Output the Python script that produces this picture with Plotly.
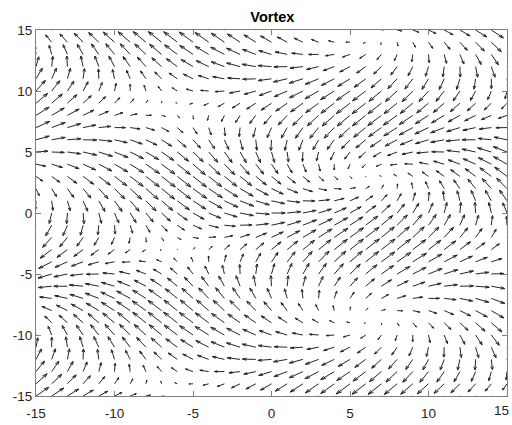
import numpy as np
import plotly.graph_objects as go

# Sampling grid (same vector for x and y)
grid_x = np.arange(-15, 16, 1.0)
grid_y = np.arange(-15, 16, 1.0)

# Field parameters: wavenumbers along x and y
kx = 0.125
ky = 0.27

# Tick positions and their labels (hyphen-minus, as printed)
tick_vals = [-15, -10, -5, 0, 5, 10, 15]
tick_text = ["-15", "-10", "-5", "0", "5", "10", "15"]

X, Y = np.meshgrid(grid_x, grid_y)
U = np.cos(kx * X + ky * Y)
V = np.sin(kx * X - ky * Y)

# quiver-style autoscaling: longest arrow = 0.9 of the mean grid diagonal
n = m = np.sqrt(X.size)
delx = (X.max() - X.min()) / n
dely = (Y.max() - Y.min()) / m
dl = delx ** 2 + dely ** 2
maxlen = np.sqrt((U ** 2 + V ** 2) / dl).max()
s = 0.9 / maxlen
u = (U * s).ravel()
v = (V * s).ravel()
x = X.ravel()
y = Y.ravel()

# Shaft plus a two-stroke arrowhead for every vector
alpha, beta = 0.30, 0.33
xs, ys = [], []
for xi, yi, ui, vi in zip(x, y, u, v):
    tx, ty = xi + ui, yi + vi
    xs += [xi, tx, None,
           tx - alpha * (ui + beta * vi), tx, tx - alpha * (ui - beta * vi), None]
    ys += [yi, ty, None,
           ty - alpha * (vi - beta * ui), ty, ty - alpha * (vi + beta * ui), None]

fig = go.Figure(go.Scatter(x=xs, y=ys, mode="lines",
                           line=dict(color="#262626", width=1),
                           hoverinfo="skip", showlegend=False))

font = dict(family="Liberation Sans, Arial", size=13.5, color="#262626")
axis_common = dict(range=[-15, 15], tickvals=tick_vals,
                   ticks="inside", ticklen=5, tickcolor="#808080",
                   showline=True, linecolor="#808080", linewidth=1,
                   mirror="ticks", showgrid=False, zeroline=False,
                   tickfont=font)

# The last x label would run off the page, so it is placed by hand
fig.update_xaxes(**axis_common, ticktext=tick_text[:-1] + [""],
                 ticklabelstandoff=5)
fig.update_yaxes(**axis_common, ticktext=tick_text)

fig.add_annotation(x=tick_vals[-1], y=0, xref="x", yref="paper",
                   text=tick_text[-1], showarrow=False, font=font,
                   xanchor="center", yanchor="top", xshift=-6, yshift=-5)

fig.update_layout(
    width=512, height=425,
    margin=dict(l=36, r=4, t=30, b=27),
    paper_bgcolor="white", plot_bgcolor="white",
    title=dict(text="<b>Vortex</b>", x=0.532, xanchor="center",
               y=1 - 17 / 425, yanchor="middle",
               font=dict(family="Liberation Sans, Arial", size=14.5,
                         color="#000000")),
)

fig.write_html("out.html")
